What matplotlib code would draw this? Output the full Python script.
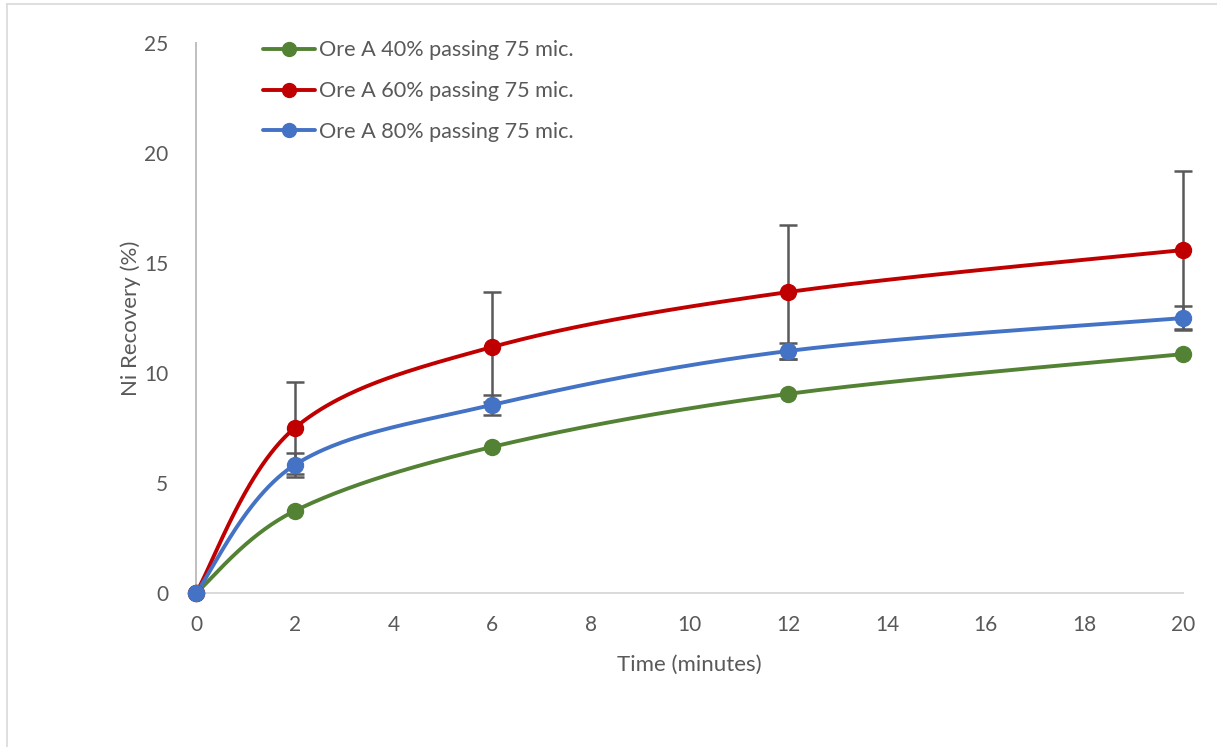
import numpy as np
import matplotlib
matplotlib.use('Agg')
import matplotlib.pyplot as plt
from matplotlib.lines import Line2D

plt.rcParams['font.family'] = ['Lato', 'DejaVu Sans']

# Leaching data, Ni recovery (%) vs. time (min)
time_min = [0, 2, 6, 12, 20]
labels = ['Ore A 40% passing 75 mic.',
          'Ore A 60% passing 75 mic.',
          'Ore A 80% passing 75 mic.']
rec_40 = [0, 3.73, 6.64, 9.05, 10.86]
rec_60 = [0, 7.50, 11.18, 13.68, 15.59]
rec_80 = [0, 5.82, 8.55, 11.00, 12.50]
err_60 = [0, 2.10, 2.48, 3.05, 3.60]
err_80 = [0, 0.55, 0.44, 0.38, 0.56]

colors = ['#548235', '#C00000', '#4472C4']
text_gray = '#595959'


def smooth(x, y, sx, sy, n=60):
    """Excel-style smoothed line (cardinal bezier, tension 1/6) in screen-scaled space."""
    p = np.column_stack([np.asarray(x, float) * sx, np.asarray(y, float) * sy])
    pts = np.vstack([p[0], p, p[-1]])
    out = []
    for i in range(1, len(pts) - 2):
        p0, p1, p2, p3 = pts[i - 1], pts[i], pts[i + 1], pts[i + 2]
        c1 = p1 + (p2 - p0) / 6.0
        c2 = p2 - (p3 - p1) / 6.0
        t = np.linspace(0, 1, n)[:, None]
        seg = ((1 - t) ** 3) * p1 + 3 * ((1 - t) ** 2) * t * c1 + 3 * (1 - t) * t ** 2 * c2 + t ** 3 * p2
        out.append(seg if i == 1 else seg[1:])
    out = np.vstack(out)
    return out[:, 0] / sx, out[:, 1] / sy


fig = plt.figure(figsize=(12.17, 7.47), dpi=100)
ax = fig.add_axes([196 / 1217, 1 - 593 / 747, (1183 - 196) / 1217, (593 - 43) / 747])

# chart frame (left and top edges)
fig.add_artist(Line2D([7 / 1217, 7 / 1217], [0, 1 - 4 / 747], transform=fig.transFigure, color='#D9D9D9', lw=1.2))
fig.add_artist(Line2D([7 / 1217, 1], [1 - 4 / 747, 1 - 4 / 747], transform=fig.transFigure, color='#D9D9D9', lw=1.2))

sx, sy = 987 / 20, 550 / 25
series = [rec_40, rec_60, rec_80]
errs = [None, err_60, err_80]
handles = []
for ys, err, c, lab in zip(series, errs, colors, labels):
    if err is not None:
        eb = ax.errorbar(time_min[1:], ys[1:], yerr=err[1:], fmt='none', ecolor='#595959',
                         elinewidth=1.8, capsize=6.5, capthick=1.8, zorder=2)
        for art in eb.lines[1] + eb.lines[2]:
            art.set_clip_on(False)
    xs_s, ys_s = smooth(time_min, ys, sx, sy)
    ax.plot(xs_s, ys_s, color=c, lw=2.8, zorder=3, solid_capstyle='round', clip_on=False)
    ax.plot(time_min, ys, 'o', color=c, ms=11.5, zorder=4, clip_on=False)
    handles.append(Line2D([0], [0], color=c, lw=2.8, marker='o', ms=10, solid_capstyle='round'))

ax.set_xlim(0, 20)
ax.set_ylim(0, 25)
ax.set_xticks(range(0, 21, 2))
ax.set_yticks(range(0, 26, 5))
ax.tick_params(length=0, labelsize=15, colors=text_gray)
ax.tick_params(axis='x', pad=16)
ax.tick_params(axis='y', pad=20)
for side in ['top', 'right']:
    ax.spines[side].set_visible(False)
ax.spines['left'].set_color('#BFBFBF')
ax.spines['bottom'].set_color('#D9D9D9')
ax.spines['left'].set_linewidth(1.4)
ax.spines['bottom'].set_linewidth(1.4)

ax.set_xlabel('Time (minutes)', fontsize=16, color=text_gray, labelpad=14)
ax.set_ylabel('Ni Recovery (%)', fontsize=16, color=text_gray, labelpad=2)

leg = ax.legend(handles, labels, loc='upper left', bbox_to_anchor=(0.048, 1.04), frameon=False,
                fontsize=15.6, handlelength=2.4, handletextpad=0.2, labelspacing=0.95, labelcolor=text_gray)

fig.savefig('out.png', dpi=100)
